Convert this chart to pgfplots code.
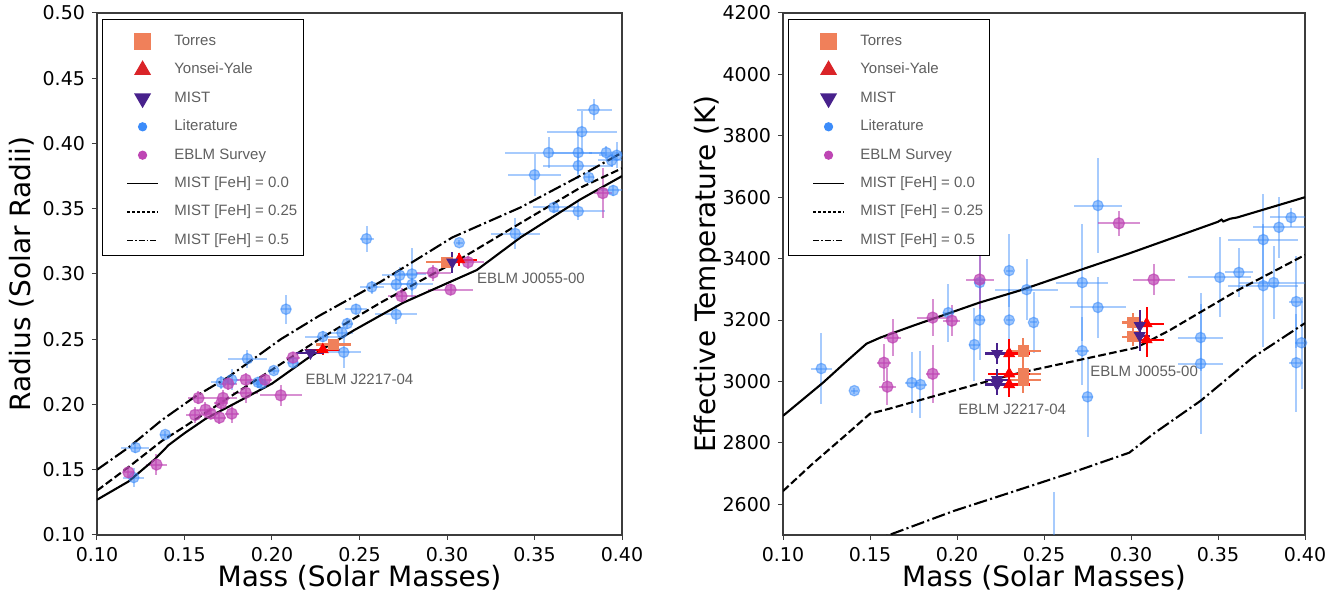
\documentclass[border=0pt]{standalone}
\usepackage{fontspec}
\setmainfont{DejaVu Sans}
\newfontfamily\helv{Liberation Sans}
\usepackage{pgfplots}
\pgfplotsset{compat=1.18}

\definecolor{torres}{RGB}{240,128,90}
\definecolor{yonsei}{RGB}{255,0,0}
\definecolor{yonseileg}{RGB}{218,36,40}
\definecolor{mist}{RGB}{72,33,140}
\definecolor{lit}{RGB}{60,140,250}
\definecolor{eblm}{RGB}{190,70,180}
\definecolor{txtgray}{RGB}{95,95,95}
\definecolor{axgray}{RGB}{60,60,60}

\pgfplotsset{
  panel/.style={
    scale only axis, height=261pt,
    xmin=0.1, xmax=0.4,
    xtick={0.10,0.15,0.20,0.25,0.30,0.35,0.40},
    xticklabel style={/pgf/number format/.cd, fixed, fixed zerofill, precision=2},
    /pgf/number format/assume math mode=true,
    tick label style={font=\fontsize{9.5}{11}\selectfont},
    label style={font=\fontsize{14}{16}\selectfont},
    tick align=outside, tick pos=left,
    major tick length=2.5pt,
    every tick/.style={line width=0.5pt, color=axgray},
    axis line style={line width=0.6pt, color=axgray},
    xlabel style={at={(axis description cs:0.5,-0.082)}, anchor=center},
    legend style={at={(axis description cs:0.0095,0.9885)}, anchor=north west,
      draw=black, line width=0.6pt, fill=white,
      font=\fontsize{7.5}{9}\selectfont\helv, text=txtgray,
      nodes={inner sep=0pt, text height=6.5pt, text depth=2.5pt, text=txtgray},
      inner xsep=3pt, inner ysep=3pt, column sep=7.75pt, row sep=1.7pt},
    legend cell align=left,
  },
  markleg/.style={legend image code/.code={%
      \path[draw=none, fill=none] (-17pt,-4.5pt) rectangle (7.75pt,8pt);
      \path[##1] plot coordinates {(0pt,0pt)};}},
  lineleg/.style={legend image code/.code={%
      \path[draw=none, fill=none] (-17pt,-4.5pt) rectangle (7.75pt,8pt);
      \draw[##1] (-7.75pt,0pt) -- (7.75pt,0pt);}},
  litdata/.style={only marks, mark=*, mark size=2.6pt, color=lit,
    mark options={fill opacity=0.5, draw opacity=0.55, line width=0.6pt},
    error bars/x dir=both, error bars/y dir=both,
    error bars/x explicit, error bars/y explicit, error bars/error mark=none,
    error bars/error bar style={line width=1pt, opacity=0.45}},
  eblmdata/.style={only marks, mark=*, mark size=2.8pt, color=eblm,
    mark options={fill opacity=0.7, draw opacity=0.7, line width=0.6pt},
    error bars/x dir=both, error bars/y dir=both,
    error bars/x explicit, error bars/y explicit, error bars/error mark=none,
    error bars/error bar style={line width=1pt, opacity=0.6}},
  special/.style={only marks, color=#1, mark options={fill=#1, draw=#1},
    error bars/x dir=both, error bars/y dir=both,
    error bars/x explicit, error bars/y explicit, error bars/error mark=none,
    error bars/error bar style={line width=1.1pt, color=#1}},
  iso0/.style={black, line width=1.05pt, solid, mark=none},
  iso25/.style={black, line width=1.05pt, dash pattern=on 3.85pt off 1.65pt, mark=none},
  iso5/.style={black, line width=1.05pt, dash pattern=on 6.7pt off 1.67pt on 1.04pt off 1.67pt, mark=none},
}

\newcommand{\legendset}{%
  \addlegendimage{mark=square*, color=torres, mark size=3.75pt, markleg}
  \addlegendentry{Torres}
  \addlegendimage{mark=triangle*, color=yonseileg, mark size=4.3pt, markleg}
  \addlegendentry{Yonsei-Yale}
  \addlegendimage{mark=triangle*, color=mist, mark size=4.3pt, mark options={rotate=180}, markleg}
  \addlegendentry{MIST}
  \addlegendimage{mark=*, color=lit, mark size=2pt, markleg}
  \addlegendentry{Literature}
  \addlegendimage{mark=*, color=eblm, mark size=2pt, markleg}
  \addlegendentry{EBLM Survey}
  \addlegendimage{black, line width=0.75pt, solid, mark=none, lineleg}
  \addlegendentry{MIST [FeH] = 0.0}
  \addlegendimage{black, line width=0.75pt, dash pattern=on 1.5pt off 1pt, mark=none, lineleg}
  \addlegendentry{MIST [FeH] = 0.25}
  \addlegendimage{black, line width=0.75pt, dash pattern=on 3pt off 1pt on 0.75pt off 1pt, mark=none, lineleg}
  \addlegendentry{MIST [FeH] = 0.5}
}

\begin{document}
\begin{tikzpicture}
\path[use as bounding box] (-48.5pt,-31pt) rectangle (621.5pt,267.5pt);

% ---------------- Left: mass-radius ----------------
\begin{axis}[panel, at={(0pt,0pt)}, anchor=south west, width=262.5pt,
  ymin=0.1, ymax=0.5,
  ytick={0.10,0.15,0.20,0.25,0.30,0.35,0.40,0.45,0.50},
  yticklabel style={/pgf/number format/.cd, fixed, fixed zerofill, precision=2},
  xlabel={Mass (Solar Masses)}, ylabel={Radius (Solar Radii)},
  ylabel style={at={(axis description cs:-0.143,0.5)}, anchor=center},
]
\legendset

\addplot[litdata, forget plot] table[x=m, y=v, x error=ex, y error=ey] {
m v ex ey
0.122 0.167 0.008 0.004
0.121 0.144 0.006 0.007
0.139 0.177 0.003 0.003
0.186 0.235 0.011 0.007
0.171 0.217 0.006 0.005
0.177 0.219 0.004 0.008
0.192 0.217 0.006 0.004
0.194 0.216 0.004 0.004
0.201 0.226 0.003 0.003
0.212 0.232 0.003 0.003
0.229 0.252 0.010 0.004
0.240 0.255 0.006 0.004
0.241 0.240 0.010 0.012
0.208 0.273 0.003 0.011
0.254 0.327 0.004 0.010
0.257 0.290 0.007 0.005
0.248 0.273 0.006 0.004
0.243 0.262 0.003 0.004
0.273 0.299 0.010 0.006
0.280 0.300 0.008 0.020
0.271 0.292 0.010 0.005
0.280 0.292 0.012 0.005
0.271 0.269 0.012 0.007
0.307 0.324 0.002 0.002
0.339 0.331 0.014 0.012
0.350 0.376 0.015 0.016
0.358 0.393 0.025 0.012
0.375 0.393 0.015 0.016
0.375 0.383 0.020 0.010
0.377 0.409 0.020 0.016
0.384 0.426 0.010 0.008
0.391 0.393 0.010 0.005
0.394 0.387 0.008 0.005
0.397 0.391 0.010 0.010
0.381 0.374 0.003 0.003
0.361 0.351 0.012 0.004
0.375 0.348 0.015 0.007
0.395 0.364 0.007 0.004
};

\addplot[eblmdata, forget plot] table[x=m, y=v, x error=ex, y error=ey] {
m v ex ey
0.118 0.148 0.003 0.004
0.134 0.154 0.006 0.008
0.158 0.205 0.006 0.005
0.156 0.192 0.005 0.006
0.162 0.196 0.005 0.006
0.165 0.193 0.004 0.004
0.170 0.190 0.004 0.005
0.172 0.205 0.008 0.006
0.171 0.201 0.004 0.005
0.177 0.193 0.004 0.007
0.175 0.216 0.005 0.005
0.185 0.219 0.005 0.005
0.185 0.209 0.007 0.008
0.196 0.219 0.004 0.004
0.205 0.207 0.012 0.008
0.212 0.236 0.004 0.004
0.292 0.301 0.010 0.006
0.274 0.283 0.008 0.006
0.302 0.288 0.013 0.004
0.312 0.309 0.009 0.005
0.389 0.362 0.005 0.019
};

\addplot[iso0, forget plot] coordinates {
(0.100,0.127) (0.118,0.141) (0.133,0.158) (0.141,0.169) (0.150,0.178)
(0.162,0.189) (0.179,0.201) (0.200,0.216) (0.221,0.236) (0.247,0.257)
(0.275,0.278) (0.317,0.303) (0.342,0.328) (0.376,0.357) (0.400,0.375)};
\addplot[iso25, forget plot] coordinates {
(0.100,0.134) (0.118,0.152) (0.137,0.172) (0.150,0.183) (0.175,0.205)
(0.205,0.231) (0.227,0.250) (0.262,0.278) (0.307,0.311) (0.342,0.339)
(0.376,0.366) (0.400,0.381)};
\addplot[iso5, forget plot] coordinates {
(0.100,0.150) (0.118,0.167) (0.137,0.188) (0.156,0.206) (0.175,0.221)
(0.205,0.250) (0.227,0.268) (0.262,0.294) (0.303,0.328) (0.342,0.351)
(0.380,0.378) (0.400,0.393)};

\addplot[special=torres, mark=square*, mark size=2.6pt, forget plot]
  table[x=m, y=v, x error=ex, y error=ey] {
m v ex ey
0.300 0.309 0.012 0.004
0.235 0.246 0.010 0.004
};
\addplot[special=yonsei, mark=triangle*, mark size=3.1pt, forget plot]
  table[x=m, y=v, x error=ex, y error=ey] {
m v ex ey
0.307 0.311 0.010 0.005
0.229 0.242 0.010 0.004
};
\addplot[special=mist, mark=triangle*, mark size=3.1pt, mark options={rotate=180}, forget plot]
  table[x=m, y=v, x error=ex, y error=ey] {
m v ex ey
0.303 0.309 0.003 0.008
0.222 0.2395 0.008 0.003
};

\node[anchor=west, font=\fontsize{7.5}{9}\selectfont\helv, text=txtgray, inner sep=0pt]
  at (axis cs:0.317,0.297) {EBLM J0055-00};
\node[anchor=west, font=\fontsize{7.5}{9}\selectfont\helv, text=txtgray, inner sep=0pt]
  at (axis cs:0.219,0.219) {EBLM J2217-04};
\end{axis}

% ---------------- Right: mass-Teff ----------------
\begin{axis}[panel, at={(343pt,0pt)}, anchor=south west, width=261pt,
  ymin=2500, ymax=4200,
  ytick={2600,2800,3000,3200,3400,3600,3800,4000,4200},
  yticklabel style={/pgf/number format/.cd, 1000 sep={}},
  xlabel={Mass (Solar Masses)}, ylabel={Effective Temperature (K)},
  ylabel style={at={(axis description cs:-0.144,0.5)}, anchor=center},
]
\legendset

\addplot[litdata, forget plot] table[x=m, y=v, x error=ex, y error=ey] {
m v ex ey
0.122 3042 0.006 117
0.141 2970 0.002 10
0.174 2996 0.004 100
0.179 2990 0.004 110
0.195 3224 0.003 95
0.210 3120 0.003 120
0.213 3200 0.003 130
0.213 3322 0.003 120
0.230 3361 0.002 120
0.230 3200 0.002 100
0.240 3299 0.018 100
0.244 3192 0.002 100
0.281 3573 0.014 155
0.272 3322 0.015 190
0.281 3241 0.016 100
0.272 3100 0.004 110
0.275 2950 0.003 130
0.340 3143 0.013 110
0.340 3058 0.013 230
0.351 3339 0.018 130
0.362 3355 0.008 80
0.376 3462 0.020 150
0.376 3312 0.020 200
0.382 3322 0.020 120
0.385 3502 0.015 100
0.392 3534 0.012 30
0.395 3260 0.004 150
0.398 3126 0.004 150
0.395 3061 0.004 160
0.256 2380 0.002 260
};

\addplot[eblmdata, forget plot] table[x=m, y=v, x error=ex, y error=ey] {
m v ex ey
0.213 3332 0.008 95
0.186 3208 0.009 60
0.197 3198 0.005 50
0.163 3143 0.005 60
0.158 3061 0.004 60
0.160 2983 0.005 60
0.186 3025 0.004 95
0.293 3515 0.012 40
0.313 3332 0.012 50
};

\addplot[iso0, forget plot] coordinates {
(0.100,2888) (0.123,2996) (0.137,3068) (0.148,3123) (0.156,3143)
(0.175,3182) (0.213,3257) (0.236,3296) (0.253,3329) (0.299,3417)
(0.350,3520) (0.352,3527) (0.353,3521) (0.357,3530) (0.361,3534) (0.400,3600)};
\addplot[iso25, forget plot] coordinates {
(0.100,2643) (0.117,2732) (0.137,2830) (0.150,2895) (0.161,2911)
(0.198,2970) (0.223,3009) (0.236,3028) (0.303,3110) (0.322,3166)
(0.361,3296) (0.400,3412)};
\addplot[iso5, forget plot] coordinates {
(0.150,2477) (0.161,2500) (0.198,2578) (0.236,2648) (0.269,2709)
(0.299,2768) (0.313,2830) (0.340,2937) (0.370,3078) (0.400,3190)};

\addplot[special=torres, mark=square*, mark size=2.6pt, forget plot]
  table[x=m, y=v, x error=ex, y error=ey] {
m v ex ey
0.238 3100 0.010 43
0.238 3025 0.010 43
0.238 3005 0.010 43
0.301 3192 0.006 30
0.301 3146 0.006 30
};
\addplot[special=yonsei, mark=triangle*, mark size=3.1pt, forget plot]
  table[x=m, y=v, x error=ex, y error=ey] {
m v ex ey
0.230 3091 0.012 48
0.230 3025 0.012 48
0.230 2990 0.012 40
0.309 3188 0.010 55
0.309 3136 0.010 55
};
\addplot[special=mist, mark=triangle*, mark size=3.1pt, mark options={rotate=180}, forget plot]
  table[x=m, y=v, x error=ex, y error=ey] {
m v ex ey
0.223 3091 0.007 34
0.223 3006 0.007 34
0.223 2990 0.007 34
0.305 3182 0.006 50
0.305 3149 0.006 50
};

\node[anchor=west, font=\fontsize{7.5}{9}\selectfont\helv, text=txtgray, inner sep=0pt]
  at (axis cs:0.2764,3032) {EBLM J0055-00};
\node[anchor=west, font=\fontsize{7.5}{9}\selectfont\helv, text=txtgray, inner sep=0pt]
  at (axis cs:0.2006,2908) {EBLM J2217-04};
\end{axis}
\end{tikzpicture}
\end{document}
